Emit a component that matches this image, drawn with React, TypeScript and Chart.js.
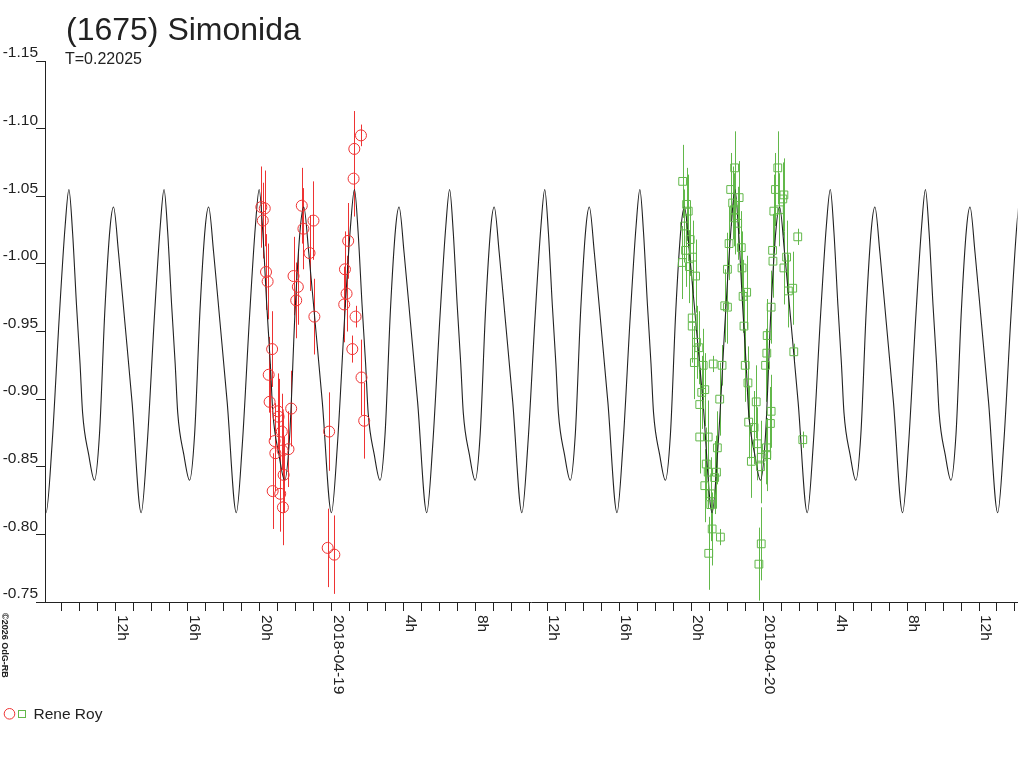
import React, { useEffect, useRef } from "react";
import { Chart, registerables } from "chart.js";

Chart.register(...registerables);

const TITLE = "(1675) Simonida";
const SUBTITLE = "T=0.22025";
const OBSERVER = "Rene Roy";
const COPYRIGHT = "©2026 OdG-RB";

// hours counted from 2018-04-18 00:00
const X_MIN = 8.06;
const X_MAX = 62.14;
const Y_MIN = -1.15;
const Y_MAX = -0.75;

const xLabelHours = [12, 16, 20, 24, 28, 32, 36, 40, 44, 48, 52, 56, 60];
const xLabelTexts = ["12h", "16h", "20h", "2018-04-19", "4h", "8h", "12h", "16h", "20h", "2018-04-20", "4h", "8h", "12h"];

// fitted lightcurve
const curveHours = [
  7.61, 8.12, 8.45, 8.85, 9.18,
  9.39, 9.59, 9.81, 10.01, 10.15, 10.49, 10.81, 11.09, 11.39, 11.68, 11.87, 12.15, 12.5, 12.9, 13.41, 13.74, 14.14, 14.47,
  14.68, 14.88, 15.1, 15.3, 15.44, 15.78, 16.1, 16.38, 16.68, 16.97, 17.16, 17.44, 17.79, 18.19, 18.7, 19.03, 19.43, 19.76,
  19.97, 20.17, 20.39, 20.59, 20.73, 21.07, 21.39, 21.67, 21.97, 22.26, 22.45, 22.73, 23.08, 23.48, 23.99, 24.32, 24.72, 25.05,
  25.27, 25.47, 25.69, 25.89, 26.03, 26.37, 26.69, 26.97, 27.27, 27.56, 27.75, 28.03, 28.38, 28.78, 29.29, 29.62, 30.02, 30.35,
  30.56, 30.76, 30.98, 31.18, 31.32, 31.66, 31.98, 32.26, 32.56, 32.85, 33.04, 33.32, 33.67, 34.07, 34.58, 34.91, 35.31, 35.64,
  35.85, 36.05, 36.27, 36.47, 36.61, 36.95, 37.27, 37.55, 37.85, 38.14, 38.33, 38.61, 38.96, 39.36, 39.87, 40.2, 40.6, 40.93,
  41.14, 41.34, 41.56, 41.76, 41.9, 42.24, 42.56, 42.84, 43.14, 43.43, 43.62, 43.9, 44.25, 44.65, 45.16, 45.49, 45.89, 46.22,
  46.43, 46.63, 46.85, 47.05, 47.19, 47.53, 47.85, 48.13, 48.43, 48.72, 48.91, 49.19, 49.54, 49.94, 50.45, 50.78, 51.18, 51.51,
  51.73, 51.93, 52.15, 52.35, 52.49, 52.83, 53.15, 53.43, 53.73, 54.02, 54.21, 54.49, 54.84, 55.24, 55.75, 56.08, 56.48, 56.81,
  57.02, 57.22, 57.44, 57.64, 57.78, 58.12, 58.44, 58.72, 59.02, 59.31, 59.5, 59.78, 60.13, 60.53, 61.04, 61.37, 61.77, 62.1,
  62.31,
];
const curveMags = [
  -0.898, -0.816, -0.866, -0.96, -1.028,
  -1.055, -1.024, -0.97, -0.926, -0.89, -0.859, -0.84, -0.874, -0.966, -1.027, -1.042, -1.008, -0.957, -0.898, -0.816, -0.866, -0.96, -1.028,
  -1.055, -1.024, -0.97, -0.926, -0.89, -0.859, -0.84, -0.874, -0.966, -1.027, -1.042, -1.008, -0.957, -0.898, -0.816, -0.866, -0.96, -1.028,
  -1.055, -1.024, -0.97, -0.926, -0.89, -0.859, -0.84, -0.874, -0.966, -1.027, -1.042, -1.008, -0.957, -0.898, -0.816, -0.866, -0.96, -1.028,
  -1.055, -1.024, -0.97, -0.926, -0.89, -0.859, -0.84, -0.874, -0.966, -1.027, -1.042, -1.008, -0.957, -0.898, -0.816, -0.866, -0.96, -1.028,
  -1.055, -1.024, -0.97, -0.926, -0.89, -0.859, -0.84, -0.874, -0.966, -1.027, -1.042, -1.008, -0.957, -0.898, -0.816, -0.866, -0.96, -1.028,
  -1.055, -1.024, -0.97, -0.926, -0.89, -0.859, -0.84, -0.874, -0.966, -1.027, -1.042, -1.008, -0.957, -0.898, -0.816, -0.866, -0.96, -1.028,
  -1.055, -1.024, -0.97, -0.926, -0.89, -0.859, -0.84, -0.874, -0.966, -1.027, -1.042, -1.008, -0.957, -0.898, -0.816, -0.866, -0.96, -1.028,
  -1.055, -1.024, -0.97, -0.926, -0.89, -0.859, -0.84, -0.874, -0.966, -1.027, -1.042, -1.008, -0.957, -0.898, -0.816, -0.866, -0.96, -1.028,
  -1.055, -1.024, -0.97, -0.926, -0.89, -0.859, -0.84, -0.874, -0.966, -1.027, -1.042, -1.008, -0.957, -0.898, -0.816, -0.866, -0.96, -1.028,
  -1.055, -1.024, -0.97, -0.926, -0.89, -0.859, -0.84, -0.874, -0.966, -1.027, -1.042, -1.008, -0.957, -0.898, -0.816, -0.866, -0.96, -1.028,
  -1.055,
];

// session 1 (red circles), night of 18-19 April
const redHours = [
  20.09, 20.28, 20.17, 20.35, 20.44, 20.69, 22.34, 22.43, 22.99, 22.77, 21.88, 22.12, 22.03, 23.04,
  25.63, 25.26, 25.22, 24.92, 24.74, 24.83, 24.7, 25.33, 25.15, 20.5, 20.55, 21.75, 21.01, 21.05,
  21.23, 20.83, 20.87, 21.6, 21.27, 21.33, 20.72, 21.14, 21.29, 23.86, 23.78, 24.15, 25.66, 25.81,
];
const redMags = [
  -1.042, -1.041, -1.032, -0.994, -0.987, -0.937, -1.043, -1.026, -1.032, -1.008, -0.991, -0.983, -0.973, -0.961,
  -1.095, -1.085, -1.063, -1.017, -0.996, -0.978, -0.97, -0.961, -0.937, -0.918, -0.898, -0.893, -0.891, -0.887,
  -0.876, -0.869, -0.86, -0.863, -0.862, -0.844, -0.832, -0.83, -0.82, -0.876, -0.79, -0.785, -0.916, -0.884,
];
const redErr = [
  0.03, 0.028, 0.028, 0.028, 0.028, 0.028, 0.028, 0.03, 0.029, 0.028, 0.029, 0.028, 0.028, 0.028,
  0.008, 0.028, 0.028, 0.028, 0.028, 0.028, 0.028, 0.008, 0.01, 0.028, 0.028, 0.028, 0.028, 0.028,
  0.028, 0.028, 0.028, 0.028, 0.028, 0.028, 0.028, 0.028, 0.028, 0.029, 0.029, 0.029, 0.028, 0.028,
];

// session 2 (green squares), night of 19-20 April
const greenHours = [
  43.52, 43.74, 43.83, 43.94, 43.68, 44.07, 43.5, 44.24, 46.41, 46.19, 46.66, 46.38, 46.41, 46.1, 46.78,
  46.01, 46.82, 47.08, 46.88, 48.81, 48.68, 49.15, 49.09, 48.59, 49.92, 48.54, 49.15, 49.64, 49.4, 44.05,
  44.05, 44.29, 44.42, 44.17, 44.66, 45.22, 45.71, 44.75, 44.47, 44.47, 44.94, 45.45, 45.86, 46.01, 46.93,
  47.0, 47.15, 47.61, 47.19, 47.49, 47.67, 48.44, 48.22, 48.2, 48.13, 48.44, 48.4, 48.18, 49.7, 50.2,
  44.83, 44.94, 45.4, 44.75, 45.08, 45.08, 45.16, 45.62, 44.97, 47.34, 47.89, 48.2, 47.85, 47.89, 47.76,
  43.62, 43.9, 44.58, 45.3, 45.58, 46.3, 46.58, 48.52, 48.9, 49.3,
];
const greenMags = [
  -1.061, -1.044, -1.039, -1.018, -1.01, -1.005, -1.001, -0.991, -1.071, -1.055, -1.049, -1.04, -1.034, -1.015, -1.012,
  -0.996, -0.997, -0.979, -0.976, -1.071, -1.055, -1.051, -1.048, -1.039, -1.02, -1.002, -0.997, -0.982, -0.98, -0.96,
  -0.954, -0.942, -0.938, -0.927, -0.925, -0.926, -0.925, -0.907, -0.896, -0.872, -0.872, -0.864, -0.969, -0.968, -0.954,
  -0.925, -0.912, -0.898, -0.883, -0.879, -0.867, -0.968, -0.947, -0.934, -0.925, -0.891, -0.882, -0.864, -0.935, -0.87,
  -0.852, -0.846, -0.846, -0.836, -0.83, -0.822, -0.804, -0.798, -0.786, -0.854, -0.857, -0.859, -0.85, -0.793, -0.778,
  -1.028, -0.998, -0.905, -0.842, -0.9, -1.045, -1.03, -1.01, -1.04, -1.005,
];
const greenErr = [
  0.027, 0.027, 0.027, 0.027, 0.027, 0.027, 0.027, 0.027, 0.027, 0.027, 0.027, 0.027, 0.027, 0.027, 0.027,
  0.027, 0.027, 0.027, 0.027, 0.027, 0.027, 0.027, 0.027, 0.027, 0.006, 0.027, 0.027, 0.027, 0.027, 0.027,
  0.027, 0.027, 0.027, 0.027, 0.027, 0.006, 0.015, 0.027, 0.027, 0.027, 0.027, 0.027, 0.027, 0.027, 0.027,
  0.027, 0.027, 0.027, 0.027, 0.027, 0.027, 0.027, 0.027, 0.027, 0.027, 0.027, 0.027, 0.027, 0.006, 0.006,
  0.027, 0.027, 0.027, 0.027, 0.027, 0.027, 0.027, 0.006, 0.027, 0.027, 0.027, 0.027, 0.027, 0.027, 0.027,
  0.027, 0.027, 0.027, 0.027, 0.027, 0.027, 0.027, 0.027, 0.027, 0.027,
];

const FONT = "'Liberation Sans', Arial, sans-serif";
const INK = "#222222";
const RED = "#ee3333";
const GREEN = "#62b84a";

const toPoints = (xs: number[], ys: number[]) => xs.map((x, i) => ({ x, y: ys[i] }));

// vertical error bars under the marks
const errorBars = {
  id: "errorBars",
  // eslint-disable-next-line @typescript-eslint/no-explicit-any
  beforeDatasetsDraw(chart: any) {
    const { ctx, chartArea } = chart;
    const xs = chart.scales.x;
    const ys = chart.scales.y;
    ctx.save();
    ctx.beginPath();
    ctx.rect(chartArea.left, chartArea.top, chartArea.right - chartArea.left, chartArea.bottom - chartArea.top);
    ctx.clip();
    ctx.lineWidth = 1;
    const draw = (hours: number[], mags: number[], errs: number[], color: string) => {
      ctx.strokeStyle = color;
      ctx.beginPath();
      hours.forEach((h, i) => {
        const px = Math.round(xs.getPixelForValue(h)) + 0.5;
        ctx.moveTo(px, ys.getPixelForValue(mags[i] - errs[i]));
        ctx.lineTo(px, ys.getPixelForValue(mags[i] + errs[i]));
      });
      ctx.stroke();
    };
    draw(redHours, redMags, redErr, RED);
    draw(greenHours, greenMags, greenErr, GREEN);
    ctx.restore();
  },
};

// title, rotated x labels, legend and credit
const textLayer = {
  id: "textLayer",
  // eslint-disable-next-line @typescript-eslint/no-explicit-any
  afterDraw(chart: any) {
    const { ctx } = chart;
    const xs = chart.scales.x;
    ctx.save();
    ctx.fillStyle = INK;
    ctx.textAlign = "left";
    ctx.textBaseline = "alphabetic";

    ctx.font = `32px ${FONT}`;
    ctx.fillText(TITLE, 66, 40);
    ctx.font = `16px ${FONT}`;
    ctx.fillText(SUBTITLE, 65, 64);

    ctx.font = `15.5px ${FONT}`;
    xLabelHours.forEach((h, i) => {
      const px = xs.getPixelForValue(h);
      ctx.save();
      ctx.translate(px + 2, xs.top + 13);
      ctx.rotate(Math.PI / 2);
      ctx.fillText(xLabelTexts[i], 0, 0);
      ctx.restore();
    });

    ctx.font = `bold 9px ${FONT}`;
    ctx.save();
    ctx.translate(2, 613);
    ctx.rotate(Math.PI / 2);
    ctx.fillText(COPYRIGHT, 0, 0);
    ctx.restore();

    ctx.lineWidth = 1;
    ctx.strokeStyle = RED;
    ctx.beginPath();
    ctx.arc(9.5, 713.8, 5.3, 0, Math.PI * 2);
    ctx.stroke();
    ctx.strokeStyle = GREEN;
    ctx.strokeRect(18.5, 710.5, 7, 7);
    ctx.font = `15.5px ${FONT}`;
    ctx.fillText(OBSERVER, 33.5, 719);
    ctx.restore();
  },
};

const LightcurveChart = () => {
  const chartRef = useRef<HTMLCanvasElement>(null);
  const chartInstanceRef = useRef<Chart | null>(null);

  useEffect(() => {
    if (!chartRef.current) return;
    const ctx = chartRef.current.getContext("2d");
    if (!ctx) return;

    if (chartInstanceRef.current) {
      chartInstanceRef.current.destroy();
    }

    chartInstanceRef.current = new Chart(ctx, {
      type: "scatter",
      data: {
        datasets: [
          {
            label: "Rene Roy 1",
            data: toPoints(redHours, redMags),
            pointStyle: "circle",
            pointRadius: 5.5,
            pointBorderWidth: 1,
            borderColor: RED,
            backgroundColor: "rgba(0,0,0,0)",
          },
          {
            label: "Rene Roy 2",
            data: toPoints(greenHours, greenMags),
            pointStyle: "rect",
            pointRadius: 5.5,
            pointBorderWidth: 1,
            borderColor: GREEN,
            backgroundColor: "rgba(0,0,0,0)",
          },
          {
            label: "fit",
            data: toPoints(curveHours, curveMags),
            showLine: true,
            pointRadius: 0,
            borderColor: INK,
            borderWidth: 1.1,
            cubicInterpolationMode: "monotone",
          },
        ],
      },
      options: {
        responsive: false,
        animation: false,
        events: [],
        layout: { padding: { left: 0, top: 61, right: 2, bottom: 0 } },
        plugins: {
          legend: { display: false },
          tooltip: { enabled: false },
          title: { display: false },
        },
        scales: {
          x: {
            type: "linear",
            min: X_MIN,
            max: X_MAX,
            ticks: { stepSize: 1, display: false, includeBounds: false },
            grid: { drawOnChartArea: false, drawTicks: true, tickLength: 9, color: INK, lineWidth: 1 },
            border: { display: true, color: INK, width: 1 },
            afterFit: (scale) => {
              scale.height = 166;
            },
          },
          y: {
            type: "linear",
            reverse: true,
            min: Y_MIN,
            max: Y_MAX,
            ticks: {
              stepSize: 0.05,
              padding: -2,
              labelOffset: -8,
              color: INK,
              font: { family: FONT, size: 15.5 },
              callback: (v) => Number(v).toFixed(2),
            },
            grid: { drawOnChartArea: false, drawTicks: true, tickLength: 9, color: INK, lineWidth: 1 },
            border: { display: true, color: INK, width: 1 },
            afterFit: (scale) => {
              scale.width = 45;
            },
          },
        },
      },
      plugins: [errorBars, textLayer],
    });

    return () => {
      if (chartInstanceRef.current) {
        chartInstanceRef.current.destroy();
        chartInstanceRef.current = null;
      }
    };
  }, []);

  return (
    <div style={{ position: "absolute", left: 0, top: 0, width: "1024px", height: "768px", background: "#ffffff" }}>
      <canvas ref={chartRef} width={1024} height={768} style={{ display: "block" }} />
    </div>
  );
};

export default function App() {
  return <LightcurveChart />;
}
